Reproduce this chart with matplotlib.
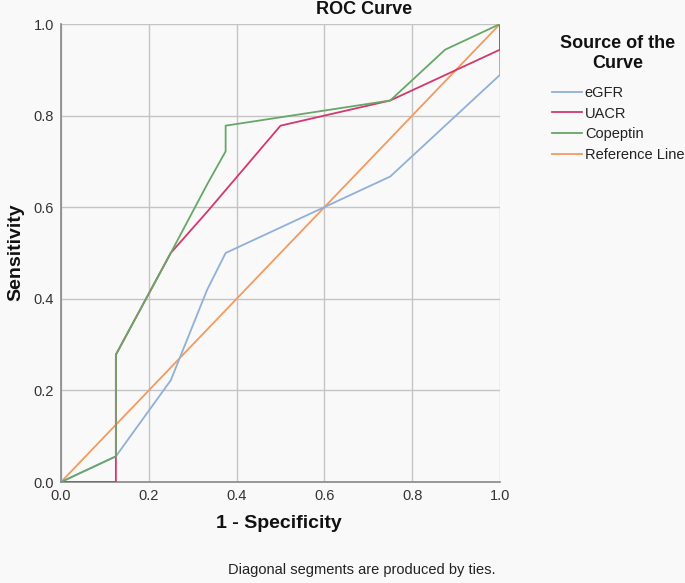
import matplotlib
matplotlib.use("Agg")
import matplotlib.pyplot as plt
from matplotlib.lines import Line2D

plt.rcParams["font.family"] = ["Liberation Sans", "DejaVu Sans"]

# Data (1 - specificity, sensitivity)
egfr_x = [0.0, 0.125, 0.25, 0.333, 0.375, 0.75, 1.0, 1.0]
egfr_y = [0.0, 0.056, 0.222, 0.42, 0.5, 0.667, 0.889, 1.0]

uacr_x = [0.0, 0.125, 0.125, 0.25, 0.333, 0.5, 0.75, 1.0, 1.0]
uacr_y = [0.0, 0.0, 0.278, 0.5, 0.59, 0.778, 0.833, 0.944, 1.0]

cop_x = [0.0, 0.125, 0.125, 0.25, 0.333, 0.375, 0.375, 0.75, 0.875, 1.0]
cop_y = [0.0, 0.056, 0.278, 0.5, 0.65, 0.722, 0.778, 0.833, 0.944, 1.0]

ref_x = [0.0, 1.0]
ref_y = [0.0, 1.0]

series_names = ["eGFR", "UACR", "Copeptin", "Reference Line"]
series_colors = ["#8fb0d8", "#d2386c", "#67a767", "#f39a5e"]
ticks = [0.0, 0.2, 0.4, 0.6, 0.8, 1.0]
tick_labels = ["0.0", "0.2", "0.4", "0.6", "0.8", "1.0"]

W, H = 685, 583
fig = plt.figure(figsize=(W / 100, H / 100), dpi=100)
bg = "#f9f9f9"
fig.patch.set_facecolor(bg)

ax = fig.add_axes([61 / W, 1 - 482 / H, (500 - 61) / W, (482 - 24) / H])
ax.set_facecolor(bg)

ax.set_xlim(0, 1)
ax.set_ylim(0, 1)
ax.set_xticks(ticks)
ax.set_yticks(ticks)
ax.set_xticklabels(tick_labels)
ax.set_yticklabels(tick_labels)
ax.grid(True, color="#c4c4c4", linewidth=1.0)
ax.set_axisbelow(True)
for s in ["top", "right"]:
    ax.spines[s].set_visible(False)
for s in ["left", "bottom"]:
    ax.spines[s].set_color("#888888")
    ax.spines[s].set_linewidth(1.2)
ax.tick_params(length=0, labelsize=10.5, colors="#333333", pad=5)

lw = 1.3
ax.plot(ref_x, ref_y, color=series_colors[3], lw=lw, zorder=3)
ax.plot(egfr_x, egfr_y, color=series_colors[0], lw=lw, zorder=4)
ax.plot(uacr_x, uacr_y, color=series_colors[1], lw=lw, zorder=5)
ax.plot(cop_x, cop_y, color=series_colors[2], lw=lw, zorder=6)

fig.text(364 / W, 1 - 10 / H, "ROC Curve", ha="center", va="center",
         fontsize=13, fontweight="bold", color="#111111")
fig.text(16 / W, 1 - 252 / H, "Sensitivity", ha="center", va="center",
         rotation=90, fontsize=14, fontweight="bold", color="#111111")
fig.text(279 / W, 1 - 524 / H, "1 - Specificity", ha="center", va="center",
         fontsize=14, fontweight="bold", color="#111111")
fig.text(362 / W, 1 - 570 / H, "Diagonal segments are produced by ties.",
         ha="center", va="center", fontsize=10.5, color="#222222")

# legend title
fig.text(618 / W, 1 - 44 / H, "Source of the", ha="center", va="center",
         fontsize=13, fontweight="bold", color="#111111")
fig.text(618 / W, 1 - 63 / H, "Curve", ha="center", va="center",
         fontsize=13, fontweight="bold", color="#111111")

handles = [Line2D([0], [0], color=c, lw=1.3) for c in series_colors]
leg = fig.legend(handles, series_names,
                 loc="upper left", bbox_to_anchor=(552 / W, 1 - 86 / H),
                 borderaxespad=0, borderpad=0,
                 frameon=False, fontsize=10.5, handlelength=2.05,
                 handletextpad=0.2, labelspacing=0.45)
for t in leg.get_texts():
    t.set_color("#222222")

fig.savefig("out.png", dpi=100, facecolor=bg)
